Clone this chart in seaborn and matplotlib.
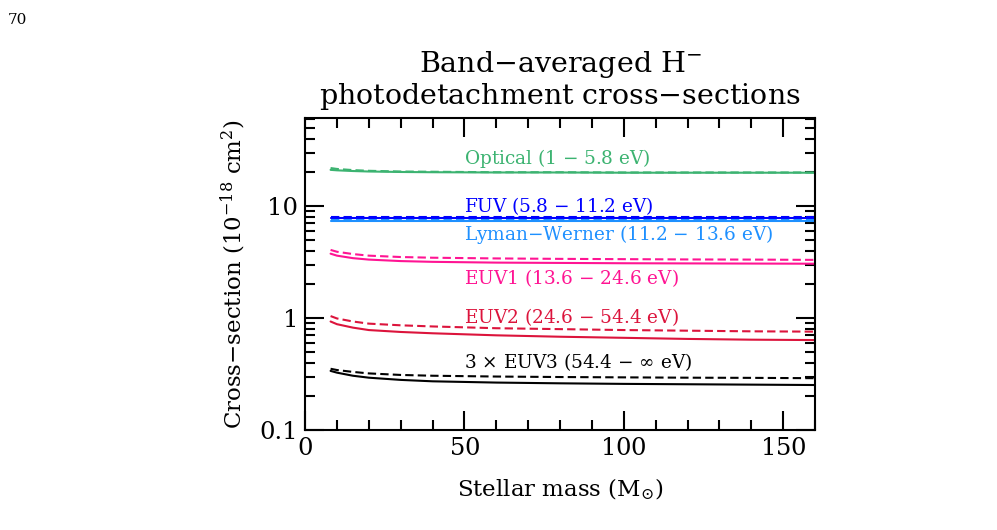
import numpy as np
import pandas as pd
import matplotlib
matplotlib.use("Agg")
import matplotlib.pyplot as plt
import seaborn as sns

# ---- data ----
mass = [8, 10, 15, 20, 30, 40, 60, 80, 100, 120, 140, 160]

opt_solid = [21.0, 20.8, 20.5, 20.3, 20.1, 20.0, 19.9, 19.9, 19.8, 19.8, 19.8, 19.8]
opt_dash = [21.8, 21.4, 20.9, 20.6, 20.3, 20.2, 20.0, 20.0, 19.9, 19.9, 19.9, 19.9]
fuv_solid = [7.75, 7.75, 7.75, 7.75, 7.75, 7.75, 7.75, 7.75, 7.75, 7.75, 7.75, 7.75]
fuv_dash = [7.9, 7.9, 7.9, 7.9, 7.9, 7.9, 7.9, 7.9, 7.9, 7.9, 7.9, 7.9]
lw_solid = [7.4, 7.4, 7.4, 7.4, 7.4, 7.4, 7.4, 7.4, 7.4, 7.4, 7.4, 7.4]
lw_dash = [7.55, 7.55, 7.55, 7.55, 7.55, 7.55, 7.55, 7.55, 7.55, 7.55, 7.55, 7.55]
euv1_solid = [3.75, 3.6, 3.42, 3.32, 3.22, 3.17, 3.12, 3.1, 3.08, 3.07, 3.06, 3.05]
euv1_dash = [4.05, 3.9, 3.72, 3.6, 3.5, 3.45, 3.4, 3.37, 3.35, 3.33, 3.32, 3.3]
euv2_solid = [0.93, 0.88, 0.82, 0.78, 0.75, 0.73, 0.7, 0.68, 0.665, 0.65, 0.64, 0.635]
euv2_dash = [1.04, 0.99, 0.93, 0.89, 0.86, 0.84, 0.81, 0.795, 0.78, 0.77, 0.76, 0.755]
euv3_solid = [0.337, 0.325, 0.305, 0.293, 0.28, 0.272, 0.265, 0.261, 0.258, 0.256, 0.254, 0.252]
euv3_dash = [0.352, 0.343, 0.33, 0.32, 0.31, 0.305, 0.3, 0.297, 0.295, 0.293, 0.292, 0.29]

bands = ["Optical (1 $-$ 5.8 eV)", "FUV (5.8 $-$ 11.2 eV)",
         "Lyman$-$Werner (11.2 $-$ 13.6 eV)", "EUV1 (13.6 $-$ 24.6 eV)",
         "EUV2 (24.6 $-$ 54.4 eV)", r"3 $\times$ EUV3 (54.4 $-$ $\infty$ eV)"]
colors = ["#3CB371", "#0000FF", "#1E90FF", "#FF1493", "#DC143C", "#000000"]
label_y = [26.5, 10.0, 5.55, 2.28, 1.02, 0.405]

solid = [opt_solid, fuv_solid, lw_solid, euv1_solid, euv2_solid, euv3_solid]
dashed = [opt_dash, fuv_dash, lw_dash, euv1_dash, euv2_dash, euv3_dash]

rows = []
for b, s, d in zip(bands, solid, dashed):
    for m, v in zip(mass, s):
        rows.append((b, "solid", m, v))
    for m, v in zip(mass, d):
        rows.append((b, "dashed", m, v))
df = pd.DataFrame(rows, columns=["band", "style", "mass", "sigma"])

sns.set_style("ticks")
plt.rcParams.update({
    "font.family": ["DejaVu Serif"],
    "mathtext.fontset": "dejavuserif",
    "axes.unicode_minus": False,
    "axes.formatter.use_mathtext": True,
    "axes.linewidth": 1.5,
    "text.color": "black",
    "axes.labelcolor": "black",
    "xtick.color": "black",
    "ytick.color": "black",
    "axes.edgecolor": "black",
})

fig = plt.figure(figsize=(9.97, 5.30), dpi=100)
ax = fig.add_axes([0.306, 0.1887, 0.5115, 0.5887])

sns.lineplot(data=df, x="mass", y="sigma", hue="band", style="style",
             hue_order=bands, palette=colors,
             style_order=["solid", "dashed"],
             dashes={"solid": "", "dashed": (4, 2)},
             linewidth=1.5, legend=False, ax=ax, estimator=None,
             units="band")

ax.set_yscale("log")
ax.set_xlim(0, 160)
ax.set_ylim(0.1, 61)
ax.set_xticks([0, 50, 100, 150])
ax.set_xticks(np.arange(0, 161, 10), minor=True)
ax.set_yticks([0.1, 1, 10])
ax.set_yticklabels(["0.1", "1", "10"])
ax.tick_params(which="both", direction="in", top=True, right=True,
               width=1.5, labelsize=17.5)
ax.tick_params(which="major", length=14, pad=5)
ax.tick_params(which="minor", length=7)
ax.yaxis.set_minor_formatter(matplotlib.ticker.NullFormatter())

ax.set_xlabel(r"Stellar mass (M$_{\odot}$)", fontsize=16.5, labelpad=12)
ax.set_ylabel(r"Cross$-$section (10$^{-18}$ cm$^{2}$)", fontsize=16.5, labelpad=8)
ax.set_title("Band$-$averaged H$^{-}$\nphotodetachment cross$-$sections",
             fontsize=20.5, pad=10, linespacing=1.05)

for b, c, y in zip(bands, colors, label_y):
    ax.text(50, y, b, color=c, fontsize=13.3, ha="left", va="center")

fig.text(0.008, 0.962, "70", fontsize=11, ha="left", va="center")

fig.savefig("out.png", dpi=100)
